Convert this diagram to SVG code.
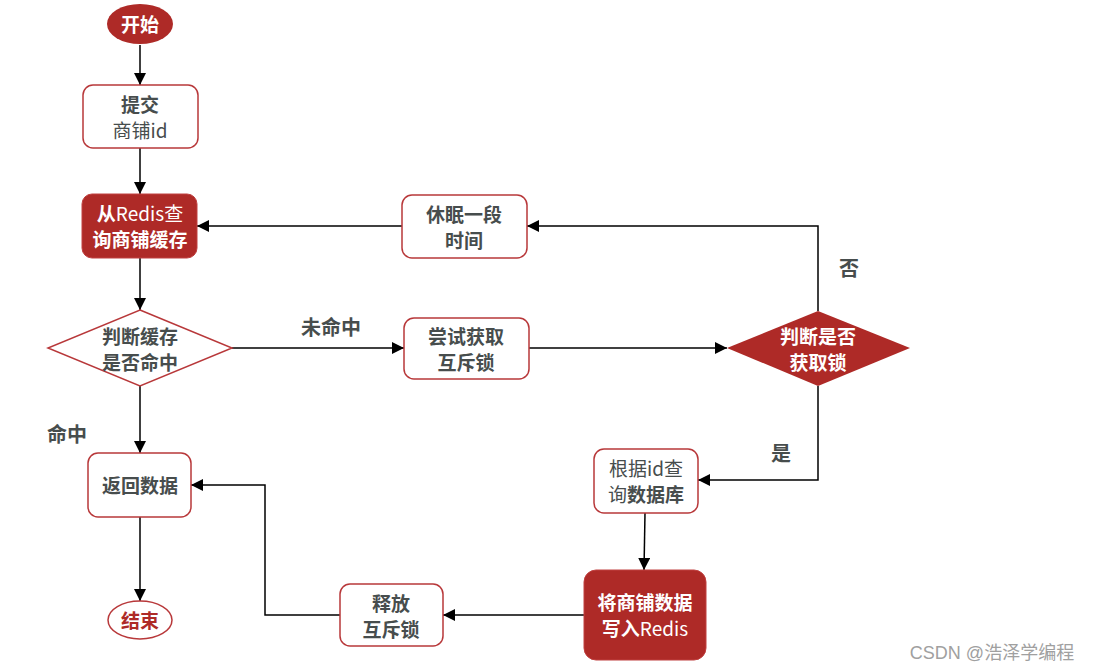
<svg xmlns="http://www.w3.org/2000/svg" width="1093" height="672" viewBox="0 0 1093 672">
<defs>
<marker id="arr" viewBox="0 0 10 10" refX="10" refY="5" markerWidth="12" markerHeight="12" markerUnits="userSpaceOnUse" orient="auto">
<path d="M0,0 L10,5 L0,10 z" fill="#000"/>
</marker>
<style>
.t{font-family:"Noto Sans CJK SC","Noto Sans",sans-serif;font-size:19px;fill:#474d4d;text-anchor:middle;dominant-baseline:central}
.b{font-weight:bold}
.w{fill:#fff}
.r{fill:#ae2a27}
.box{fill:#fff;stroke:#b8383a;stroke-width:1.5}
.fill{fill:#ae2a27;stroke:#c04040;stroke-width:1}
.c{fill:none;stroke:#000;stroke-width:1.5}
.lbl{font-family:"Noto Sans CJK SC","Noto Sans",sans-serif;font-size:20px;font-weight:bold;fill:#474d4d;text-anchor:middle;dominant-baseline:central}
</style>
</defs>
<rect width="1093" height="672" fill="#fff"/>
<g id="connectors">
<path class="c" d="M140,45 L140,85" marker-end="url(#arr)"/>
<path class="c" d="M140,148 L140,194" marker-end="url(#arr)"/>
<path class="c" d="M140,258 L140,310" marker-end="url(#arr)"/>
<path class="c" d="M140,386 L140,453" marker-end="url(#arr)"/>
<path class="c" d="M140,517 L140,601" marker-end="url(#arr)"/>
<path class="c" d="M232,348 L404,348" marker-end="url(#arr)"/>
<path class="c" d="M529,348 L727,348" marker-end="url(#arr)"/>
<path class="c" d="M818,311 L818,226 L527,226" marker-end="url(#arr)"/>
<path class="c" d="M402,226 L197,226" marker-end="url(#arr)"/>
<path class="c" d="M818,386 L818,480 L698,480" marker-end="url(#arr)"/>
<path class="c" d="M645,513 L644,570" marker-end="url(#arr)"/>
<path class="c" d="M584,615 L443,615" marker-end="url(#arr)"/>
<path class="c" d="M340,615 L265,615 L265,485 L191,485" marker-end="url(#arr)"/>
<text class="lbl" x="331" y="326">未命中</text>
<text class="lbl" x="67" y="433">命中</text>
<text class="lbl" x="849" y="267">否</text>
<text class="lbl" x="781" y="452">是</text>
</g>
<g id="start">
<ellipse cx="140" cy="24" rx="33" ry="20" fill="#ae2a27"/>
<text class="t b w" x="140" y="23">开始</text>
</g>
<g id="submit">
<rect class="box" x="83" y="85" width="115" height="63" rx="10"/>
<text class="t b" x="140" y="103">提交</text>
<text class="t" x="140" y="129">商铺id</text>
</g>
<g id="query-redis">
<rect class="fill" x="82" y="194" width="115" height="64" rx="10"/>
<text class="t w" x="140" y="212"><tspan class="b">从</tspan>Redis查</text>
<text class="t b w" x="140" y="238">询商铺缓存</text>
</g>
<g id="cache-hit">
<polygon points="140,310 232,348 140,386 48,348" fill="#fff" stroke="#b8383a" stroke-width="1.5"/>
<text class="t b" x="140" y="335">判断缓存</text>
<text class="t b" x="140" y="361">是否命中</text>
</g>
<g id="return-data">
<rect class="box" x="88" y="453" width="103" height="64" rx="10"/>
<text class="t b" x="140" y="484">返回数据</text>
</g>
<g id="end">
<ellipse cx="140" cy="620" rx="32" ry="19" fill="#fff" stroke="#b8383a" stroke-width="1.5"/>
<text class="t b r" x="140" y="619">结束</text>
</g>
<g id="sleep">
<rect class="box" x="402" y="195" width="125" height="63" rx="10"/>
<text class="t b" x="464" y="213">休眠一段</text>
<text class="t b" x="464" y="239">时间</text>
</g>
<g id="try-lock">
<rect class="box" x="404" y="318" width="125" height="61" rx="10"/>
<text class="t b" x="466" y="335">尝试获取</text>
<text class="t b" x="466" y="361">互斥锁</text>
</g>
<g id="got-lock">
<polygon points="818,311 910,348 818,386 727,348" fill="#ae2a27"/>
<text class="t b w" x="818" y="335">判断是否</text>
<text class="t b w" x="818" y="361">获取锁</text>
</g>
<g id="query-db">
<rect class="box" x="594" y="449" width="104" height="64" rx="10"/>
<text class="t" x="646" y="467">根据id查</text>
<text class="t" x="646" y="493">询<tspan class="b">数据库</tspan></text>
</g>
<g id="write-redis">
<rect class="fill" x="584" y="570" width="122" height="90" rx="12"/>
<text class="t b w" x="645" y="601">将商铺数据</text>
<text class="t w" x="645" y="627"><tspan class="b">写入</tspan>Redis</text>
</g>
<g id="release">
<rect class="box" x="340" y="584" width="103" height="62" rx="10"/>
<text class="t b" x="391" y="602">释放</text>
<text class="t b" x="391" y="628">互斥锁</text>
</g>
<text x="992" y="653" font-family="'Liberation Sans','Noto Sans CJK SC',sans-serif" font-size="18" fill="#a0a0a0" text-anchor="middle" dominant-baseline="central">CSDN @浩泽学编程</text>
</svg>
